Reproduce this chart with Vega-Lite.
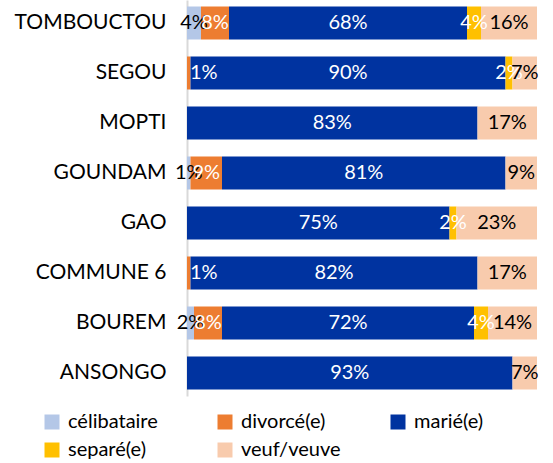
{
  "$schema": "https://vega.github.io/schema/vega-lite/v6.json",
  "autosize": "none",
  "width": 350,
  "height": 396,
  "padding": {"left": 187, "top": 0, "right": 16, "bottom": 67},
  "background": "white",
  "config": {"view": {"stroke": null}, "font": "Lato"},
  "data": {"values": [
    {"region": "TOMBOUCTOU", "status": "célibataire", "pct": 0.04},
    {"region": "TOMBOUCTOU", "status": "divorcé(e)", "pct": 0.08},
    {"region": "TOMBOUCTOU", "status": "marié(e)", "pct": 0.68},
    {"region": "TOMBOUCTOU", "status": "separé(e)", "pct": 0.04},
    {"region": "TOMBOUCTOU", "status": "veuf/veuve", "pct": 0.16},
    {"region": "SEGOU", "status": "divorcé(e)", "pct": 0.01},
    {"region": "SEGOU", "status": "marié(e)", "pct": 0.90},
    {"region": "SEGOU", "status": "separé(e)", "pct": 0.02},
    {"region": "SEGOU", "status": "veuf/veuve", "pct": 0.07},
    {"region": "MOPTI", "status": "marié(e)", "pct": 0.83},
    {"region": "MOPTI", "status": "veuf/veuve", "pct": 0.17},
    {"region": "GOUNDAM", "status": "célibataire", "pct": 0.01},
    {"region": "GOUNDAM", "status": "divorcé(e)", "pct": 0.09},
    {"region": "GOUNDAM", "status": "marié(e)", "pct": 0.81},
    {"region": "GOUNDAM", "status": "veuf/veuve", "pct": 0.09},
    {"region": "GAO", "status": "marié(e)", "pct": 0.75},
    {"region": "GAO", "status": "separé(e)", "pct": 0.02},
    {"region": "GAO", "status": "veuf/veuve", "pct": 0.23},
    {"region": "COMMUNE 6", "status": "divorcé(e)", "pct": 0.01},
    {"region": "COMMUNE 6", "status": "marié(e)", "pct": 0.82},
    {"region": "COMMUNE 6", "status": "veuf/veuve", "pct": 0.17},
    {"region": "BOUREM", "status": "célibataire", "pct": 0.02},
    {"region": "BOUREM", "status": "divorcé(e)", "pct": 0.08},
    {"region": "BOUREM", "status": "marié(e)", "pct": 0.72},
    {"region": "BOUREM", "status": "separé(e)", "pct": 0.04},
    {"region": "BOUREM", "status": "veuf/veuve", "pct": 0.14},
    {"region": "ANSONGO", "status": "marié(e)", "pct": 0.93},
    {"region": "ANSONGO", "status": "veuf/veuve", "pct": 0.07}
  ]},
  "transform": [
    {"stack": "pct", "groupby": ["region"], "sort": [{"field": "status", "order": "ascending"}], "as": ["v0", "v1"]}
  ],
  "layer": [
    {
      "mark": {"type": "bar"},
      "encoding": {
        "y": {
          "field": "region", "type": "nominal", "sort": null,
          "scale": {"paddingInner": 0.34, "paddingOuter": 0.13},
          "axis": {"title": null, "ticks": false, "domainColor": "#D9D9D9", "domainWidth": 2,
                   "labelFontSize": 21, "labelColor": "#000000", "labelPadding": 21, "labelFont": "Lato"}
        },
        "x": {"field": "v0", "type": "quantitative", "scale": {"domain": [0, 1], "nice": false, "zero": true}, "axis": null},
        "x2": {"field": "v1"},
        "color": {
          "field": "status", "type": "nominal",
          "scale": {
            "domain": ["célibataire", "divorcé(e)", "marié(e)", "separé(e)", "veuf/veuve"],
            "range": ["#B4C7E7", "#ED7D31", "#0033A0", "#FFC000", "#F8CBAD"]
          },
          "legend": {
            "title": null, "orient": "none", "legendX": -145, "legendY": 412,
            "direction": "horizontal", "columns": 3, "gridAlign": "all",
            "symbolType": "square", "symbolSize": 225, "symbolStrokeWidth": 0,
            "labelFontSize": 20, "labelColor": "#000000", "labelFont": "Lato",
            "columnPadding": 47, "rowPadding": 8, "labelOffset": 6
          }
        }
      }
    },
    {
      "transform": [
        {"filter": "!(datum.status === 'divorcé(e)' && datum.pct < 0.015)"},
        {"fold": ["v0", "v1"], "as": ["edge", "xv"]}
      ],
      "mark": {"type": "text", "fontSize": 20, "font": "Lato", "align": "center", "baseline": "middle"},
      "encoding": {
        "y": {"field": "region", "type": "nominal", "sort": null},
        "x": {"field": "xv", "type": "quantitative", "aggregate": "mean"},
        "detail": {"field": "status", "type": "nominal"},
        "text": {"field": "pct", "type": "quantitative", "aggregate": "max", "format": ".0%"},
        "color": {
          "condition": {"test": "datum.status === 'célibataire' || datum.status === 'veuf/veuve'", "value": "#000000"},
          "value": "#FFFFFF"
        }
      }
    },
    {
      "transform": [
        {"filter": "datum.status === 'divorcé(e)' && datum.pct < 0.015"}
      ],
      "mark": {"type": "text", "fontSize": 20, "font": "Lato", "align": "left", "baseline": "middle", "dx": 3, "color": "#FFFFFF"},
      "encoding": {
        "y": {"field": "region", "type": "nominal", "sort": null},
        "x": {"field": "v0", "type": "quantitative"},
        "text": {"field": "pct", "type": "quantitative", "format": ".0%"}
      }
    }
  ]
}
